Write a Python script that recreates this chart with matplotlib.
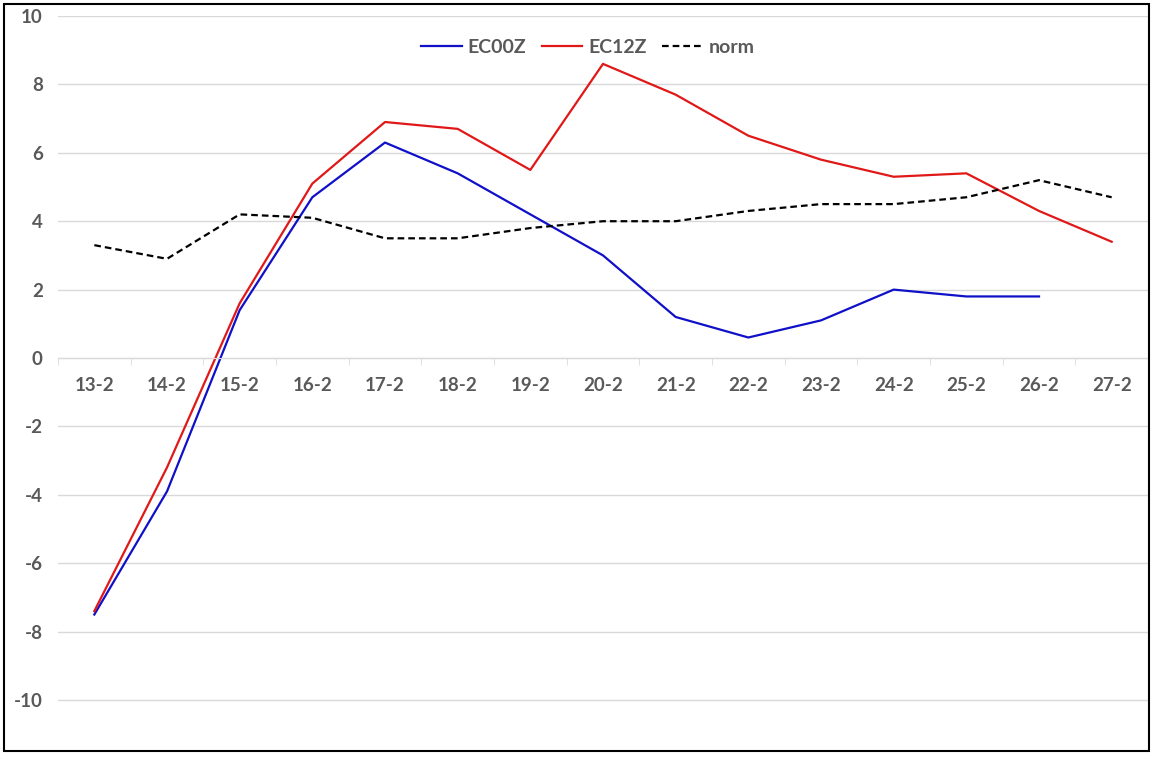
import matplotlib
matplotlib.use("Agg")
import matplotlib.pyplot as plt
import numpy as np
from matplotlib.patches import Rectangle

plt.rcParams['font.family'] = ['Lato', 'DejaVu Sans']
plt.rcParams['font.weight'] = 'bold'

dates = ["13-2", "14-2", "15-2", "16-2", "17-2", "18-2", "19-2", "20-2",
         "21-2", "22-2", "23-2", "24-2", "25-2", "26-2", "27-2"]
ec00z = [-7.5, -3.9, 1.4, 4.7, 6.3, 5.4, 4.2, 3.0, 1.2, 0.6, 1.1, 2.0, 1.8, 1.8, np.nan]
ec12z = [-7.4, -3.2, 1.6, 5.1, 6.9, 6.7, 5.5, 8.6, 7.7, 6.5, 5.8, 5.3, 5.4, 4.3, 3.4]
norm = [3.3, 2.9, 4.2, 4.1, 3.5, 3.5, 3.8, 4.0, 4.0, 4.3, 4.5, 4.5, 4.7, 5.2, 4.7]
yticks = [-10, -8, -6, -4, -2, 0, 2, 4, 6, 8, 10]

text_col = '#595959'
grid_col = '#D9D9D9'

W, H = 1156, 758
fig = plt.figure(figsize=(W / 100, H / 100), dpi=100)
ax = fig.add_axes([58 / W, (H - 744.5) / H, 1090 / W, 728.5 / H])

x = np.arange(len(dates))
ax.plot(x, ec00z, color='#1010C8', lw=1.6, label='EC00Z')
ax.plot(x, ec12z, color='#E01818', lw=1.6, label='EC12Z')
ax.plot(x, norm, color='black', lw=1.6, ls=(0, (3, 1.8)), label='norm')

ax.set_xlim(-0.5, len(dates) - 0.5)
ax.set_ylim(-11.3, 10)

ax.set_yticks(yticks)
ax.set_yticklabels([str(v) for v in yticks], fontweight='bold')
ax.yaxis.grid(True, color=grid_col, lw=1)
ax.set_axisbelow(True)

ax.set_xticks(x)
ax.set_xticklabels(dates, fontweight='bold')
ax.set_xticks(np.arange(len(dates) + 1) - 0.5, minor=True)
ax.tick_params(axis='x', which='major', length=0, pad=14, labelsize=13.5, labelcolor=text_col)
ax.tick_params(axis='x', which='minor', length=5, color=grid_col, direction='out')
ax.tick_params(axis='y', length=0, pad=11, labelsize=13.5, labelcolor=text_col)

for s in ['top', 'right', 'left']:
    ax.spines[s].set_visible(False)
ax.spines['bottom'].set_position(('data', 0))
ax.spines['bottom'].set_color(grid_col)

leg = ax.legend(loc='center', bbox_to_anchor=(0.486, 0.957), ncol=3, frameon=False,
                handlelength=2.1, handletextpad=0.3, columnspacing=0.8,
                prop={'size': 14, 'weight': 'bold'})
for t in leg.get_texts():
    t.set_color(text_col)

# outer border
fig.patches.append(Rectangle((4 / W, (H - 751) / H), 1145 / W, 747 / H,
                             transform=fig.transFigure, fill=False,
                             edgecolor='black', lw=1.5))

fig.savefig('out.png', dpi=100)
